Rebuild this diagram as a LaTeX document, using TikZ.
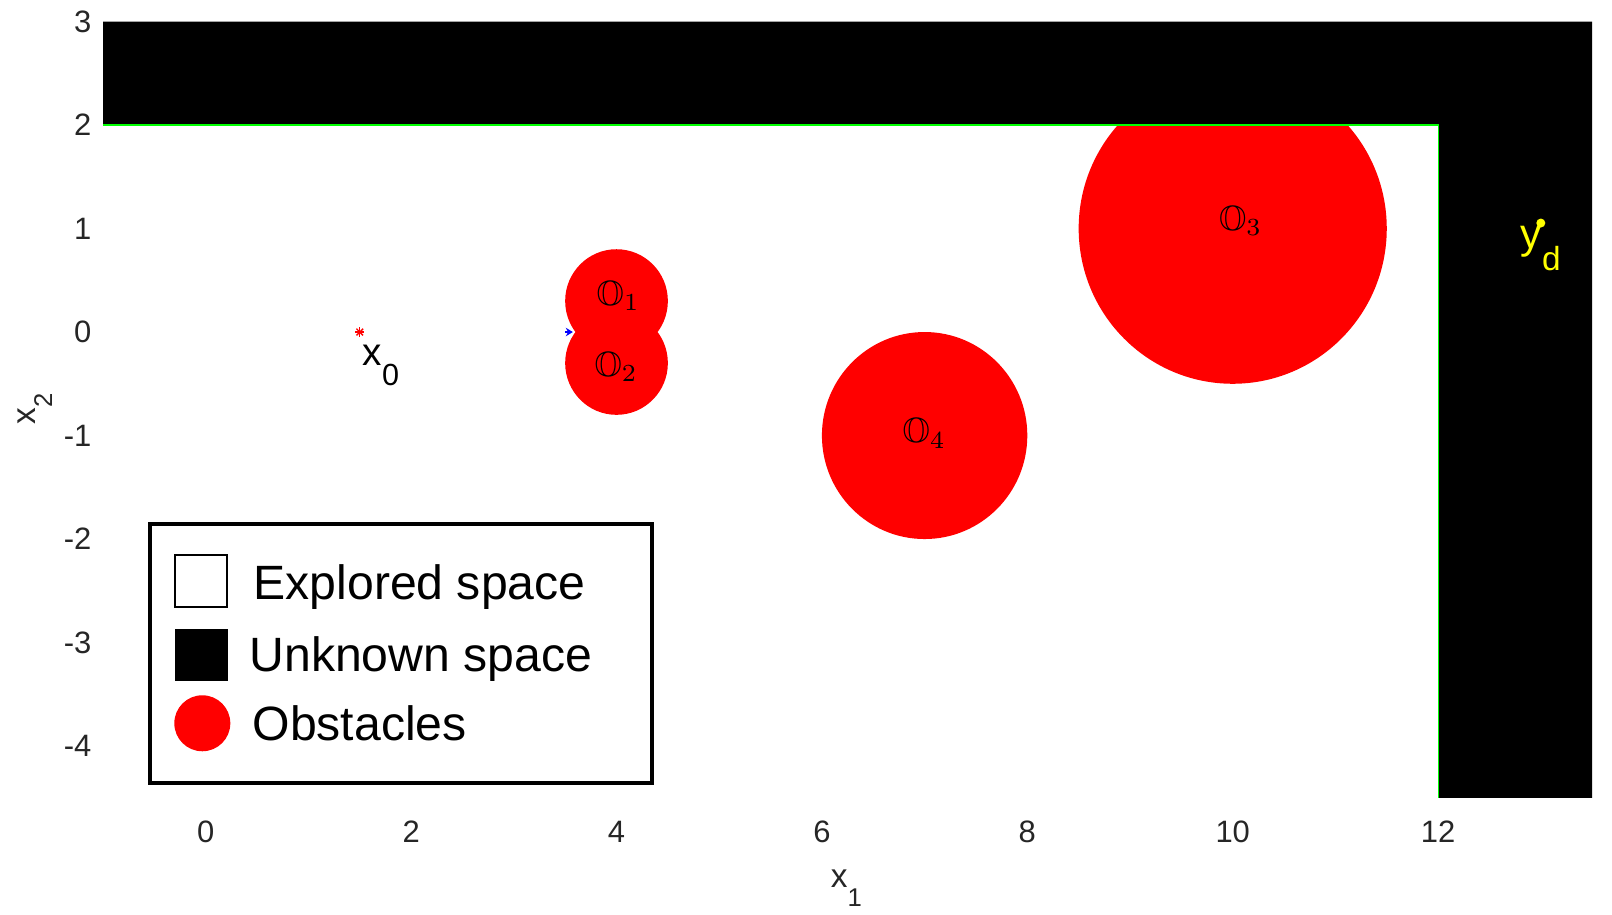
\documentclass[tikz,border=0pt]{standalone}
\usepackage{fontspec}
\setmainfont{Liberation Sans}
\usepackage{amssymb}
\usetikzlibrary{arrows.meta}
\definecolor{tickgray}{HTML}{262626}
\definecolor{mred}{HTML}{FF0000}
\definecolor{mgreen}{HTML}{00FF00}
\definecolor{myellow}{HTML}{FFFF00}
\newcommand{\msub}[4]{#1\raisebox{#3}{\fontsize{#4}{#4}\selectfont #2}}
\begin{document}
\begin{tikzpicture}[x=1.027cm, y=1.035cm,
  tick/.style={text=tickgray, inner sep=0pt, font=\fontsize{8.8}{10}\selectfont},
  obst/.style={fill=mred},
  olab/.style={anchor=base west, inner sep=0pt, font=\fontsize{10}{12}\selectfont},
  lgtext/.style={anchor=base west, inner sep=0pt, font=\fontsize{13.7}{15}\selectfont},
  boundary/.style={draw=mgreen, line width=0.35pt}]
\useasboundingbox[fill=white] (-2.003,-5.623) rectangle (13.693,3.208);

% obstacles
\fill[obst] (4,0.3) circle[radius=0.5];
\fill[obst] (4,-0.3) circle[radius=0.5];
\fill[obst] (10,1) circle[radius=1.5];
\fill[obst] (7,-1) circle[radius=1];

% unknown space
\fill[black] (-1,3) -- (13.5,3) -- (13.5,-4.5) -- (12,-4.5) -- (12,2) -- (-1,2) -- cycle;
\coordinate (bl) at (-1,2);
\coordinate (bc) at (12,2);
\coordinate (bb) at (12,-4.5);
\draw[boundary] (bl) -- (bc) -- (bb);

% obstacle labels
\node[olab] (o1) at (3.80,0.26) {$\mathbb{O}_1$};
\node[olab] (o2) at (3.78,-0.425) {$\mathbb{O}_2$};
\node[olab] (o3) at (9.86,0.98) {$\mathbb{O}_3$};
\node[olab] (o4) at (6.78,-1.07) {$\mathbb{O}_4$};

% start point
\coordinate (x0) at (1.5,0);
\draw[mred, line width=0.4pt] (x0) ++(-0.044,0) -- ++(0.088,0);
\draw[mred, line width=0.4pt] (x0) ++(0,-0.044) -- ++(0,0.088);
\draw[mred, line width=0.4pt] (x0) ++(-0.032,-0.032) -- ++(0.064,0.064);
\draw[mred, line width=0.4pt] (x0) ++(-0.032,0.032) -- ++(0.064,-0.064);
\node[anchor=base west, inner sep=0pt, font=\fontsize{11}{13}\selectfont] (x0lab) at (1.523,-0.319)
  {\msub{x}{0}{-0.2cm}{8.7}};

% small blue arrow
\coordinate (qa) at (3.50,0);
\coordinate (qb) at (3.575,0);
\draw[blue, line width=0.4pt, -{Stealth[length=2pt,width=2.4pt]}] (qa) -- (qb);

% target
\coordinate (yd) at (13,1.053);
\fill[myellow] (yd) circle (0.045cm);
\node[anchor=base west, inner sep=0pt, text=myellow, font=\fontsize{12}{14}\selectfont] (ydlab) at (12.80,0.804)
  {\msub{y}{d}{-0.22cm}{9.5}};

% legend
\node[draw, line width=1.1pt, fill=white, minimum width=5.02cm, minimum height=2.59cm, inner sep=0pt] (legend) at (1.904,-3.108) {};
\node[draw, line width=0.6pt, fill=white, minimum size=0.519cm, inner sep=0pt] (lgexp) at (-0.044,-2.409) {};
\node[fill=black, minimum width=0.53cm, minimum height=0.517cm, inner sep=0pt] (lgunk) at (-0.044,-3.120) {};
\node[circle, fill=mred, minimum size=0.56cm, inner sep=0pt] (lgobs) at (-0.033,-3.780) {};
\node[lgtext] (lt1) at (0.46,-2.583) {Explored space};
\node[lgtext] (lt2) at (0.42,-3.282) {Unknown space};
\node[lgtext] (lt3) at (0.45,-3.949) {Obstacles};

% ticks
\foreach \v in {0,2,4,6,8,10,12} {
  \node[tick, anchor=base] (xt\v) at (\v,-4.928) {\v};
}
\foreach \v/\t in {3/3,2/2,1/1,0/0,-1/-1,-2/-2,-3/-3,-4/-4} {
  \node[tick, anchor=east] (yt\t) at (-1.107,\v) {\t};
}

% axis labels
\node[anchor=base west, inner sep=0pt, text=tickgray, font=\fontsize{9.5}{11}\selectfont] (xlab) at (6.08,-5.362)
  {\msub{x}{1}{-0.19cm}{7.3}};
\node[anchor=base west, inner sep=0pt, text=tickgray, rotate=90, font=\fontsize{9.5}{11}\selectfont] (ylab) at (-1.662,-0.899)
  {\msub{x}{2}{-0.17cm}{7.3}};
\end{tikzpicture}
\end{document}
